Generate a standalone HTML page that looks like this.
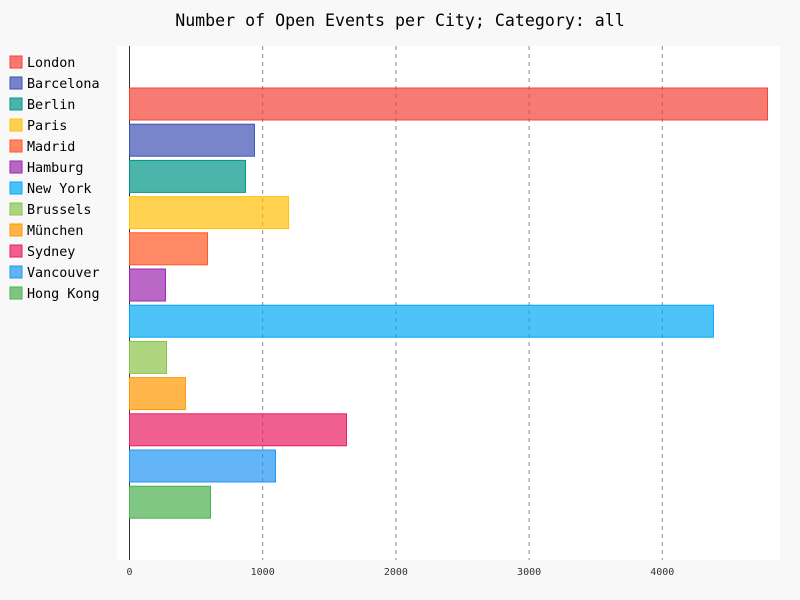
<!DOCTYPE html>
<html><head><meta charset="utf-8"><style>
body{margin:0;background:#f8f8f8;}
svg{display:block;font-family:"DejaVu Sans Mono","Liberation Mono",monospace;}
</style></head><body>
<svg id="chart" width="800" height="600" xmlns="http://www.w3.org/2000/svg">
<rect x="0" y="0" width="800" height="600" fill="#f8f8f8"/>
<text x="400" y="26" text-anchor="middle" font-size="16.6" fill="#000">Number of Open Events per City; Category: all</text>
<rect x="117" y="46" width="663" height="514" fill="#fff"/>
<g id="grid"></g><g id="bars"></g><g id="legend"></g>
</svg>
<script>
const cities=["London","Barcelona","Berlin","Paris","Madrid","Hamburg","New York","Brussels","München","Sydney","Vancouver","Hong Kong"];
const values=[4790,938,871,1194,586,270,4384,278,420,1629,1096,608];
const colors=["#F44336","#3F51B5","#009688","#FFC107","#FF5722","#9C27B0","#03A9F4","#8BC34A","#FF9800","#E91E63","#2196F3","#4CAF50"];
const ticks=[0,1000,2000,3000,4000];
const NS="http://www.w3.org/2000/svg";
const x0=129.5,pxPer=0.1332;
const xs=v=>x0+v*pxPer;
const yBand=i=>88+i*36.2;
function mk(t,a,p){const e=document.createElementNS(NS,t);for(const k in a)e.setAttribute(k,a[k]);p.appendChild(e);return e;}
const grid=document.getElementById('grid');
ticks.forEach(t=>{
  if(t>0){const l=mk('line',{x1:xs(t),x2:xs(t),y1:46,y2:560,stroke:'#888','stroke-dasharray':'4,4'},grid);
  
  }
  const tx=mk('text',{x:xs(t),y:575,'text-anchor':'middle','font-size':10,fill:'#333'},grid);
  tx.textContent=t;
  
  
});
const ax=mk('line',{x1:x0,x2:x0,y1:46,y2:560,stroke:'#333'},grid);


const bars=document.getElementById('bars');
values.forEach((v,i)=>{
  const r=mk('rect',{x:x0,y:yBand(i),width:xs(v)-x0,height:32,fill:colors[i],'fill-opacity':0.7,stroke:colors[i],'stroke-width':1},bars);
  
  
});
const lg=document.getElementById('legend');
cities.forEach((c,i)=>{
  const y=56+i*21;
  const s=mk('rect',{x:10,y:y,width:12,height:12,fill:colors[i],'fill-opacity':0.7,stroke:colors[i]},lg);
  
  
  const t=mk('text',{x:27,y:y+11,'font-size':13.4,fill:'#000'},lg);
  t.textContent=c;
  
  
});
</script>
</body></html>
